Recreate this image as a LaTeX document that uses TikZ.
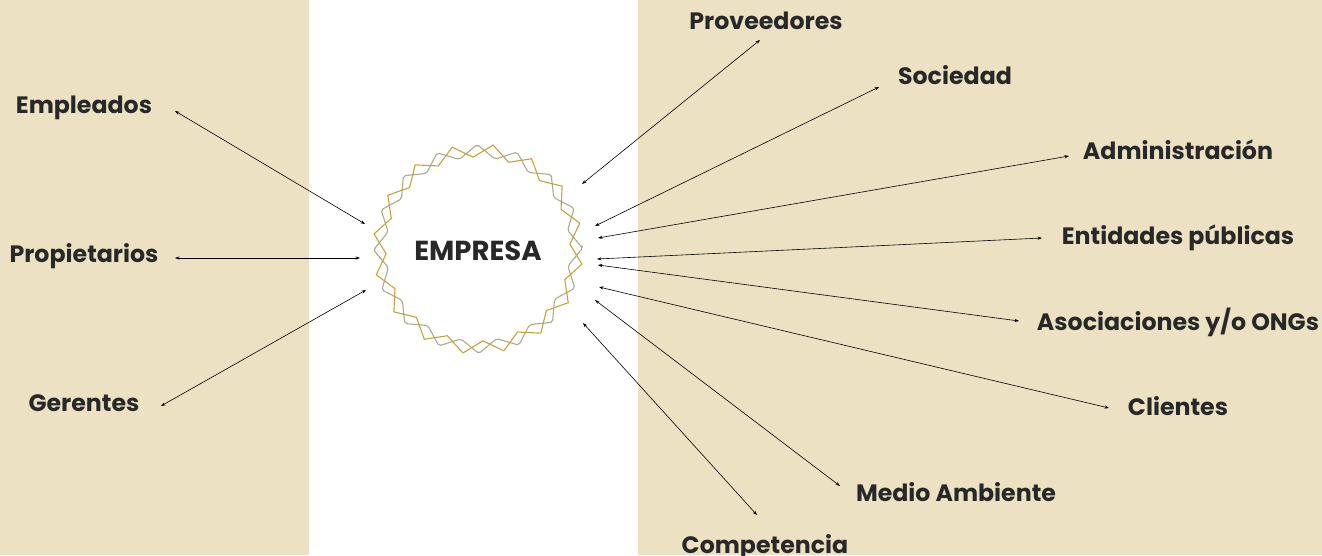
\documentclass[tikz,border=0pt]{standalone}
\usepackage{fontspec}
\setmainfont{Poppins}
\usetikzlibrary{arrows.meta}
\definecolor{beige}{RGB}{237,225,196}
\definecolor{gold}{RGB}{201,160,58}
\definecolor{olive}{RGB}{168,172,138}
\definecolor{ink}{RGB}{40,40,40}
\tikzset{
  lab/.style={anchor=base, inner sep=0pt, text=ink, font=\fontsize{23.7}{28}\selectfont\bfseries},
  link/.style={line width=0.6pt, black, {Stealth[length=4.5pt,width=3.2pt]}-{Stealth[length=4.5pt,width=3.2pt]}}
}
\begin{document}
\begin{tikzpicture}[x=1pt,y=-1pt]
\useasboundingbox (0,0) rectangle (1322,555);
\fill[beige] (0,0) rectangle (309,555);
\fill[beige] (638,0) rectangle (1322,555);
% rings
\draw[olive, line width=1.1pt, line join=round, rounded corners=2pt] plot[samples=33, domain=0:32, variable=\t]
  ({478+(98+6.5*cos(180*\t))*cos(\t*11.25-0.5)}, {249+(98+6.5*cos(180*\t))*sin(\t*11.25-0.5)}) -- cycle;
\draw[gold, line width=1.1pt, line join=miter] plot[samples=33, domain=0:32, variable=\t]
  ({478+(98.5+6.5*cos(180*\t))*cos(\t*11.25+8.25)}, {249+(98.5+6.5*cos(180*\t))*sin(\t*11.25+8.25)}) -- cycle;
\node[lab, font=\fontsize{27.5}{30}\selectfont\bfseries] (emp) at (478,260) {EMPRESA};
% labels
\node[lab] (empl) at (84,113) {Empleados};
\node[lab] (prop) at (84,262) {Propietarios};
\node[lab] (ger) at (84,411) {Gerentes};
\node[lab] (prov) at (766,29) {Proveedores};
\node[lab] (soc) at (955,84) {Sociedad};
\node[lab] (adm) at (1178,159) {Administración};
\node[lab] (ent) at (1178,244) {Entidades públicas};
\node[lab] (aso) at (1178,330) {Asociaciones y/o ONGs};
\node[lab] (cli) at (1178,415) {Clientes};
\node[lab] (med) at (956,501) {Medio Ambiente};
\node[lab] (com) at (765,553) {Competencia};
% connector ends
\coordinate (a1) at (175,111); \coordinate (b1) at (365,224);
\coordinate (a2) at (175,258); \coordinate (b2) at (360,258);
\coordinate (a3) at (161,406); \coordinate (b3) at (366,290);
\coordinate (a4) at (760,40);  \coordinate (b4) at (582,184);
\coordinate (a5) at (879,87);  \coordinate (b5) at (595,226);
\coordinate (a6) at (1069,156); \coordinate (b6) at (598,238);
\coordinate (a7) at (1042,238); \coordinate (b7) at (597,259);
\coordinate (a8) at (1019,321); \coordinate (b8) at (598,265);
\coordinate (a9) at (1109,408); \coordinate (b9) at (599,287);
\coordinate (a10) at (840,486); \coordinate (b10) at (595,300);
\coordinate (a11) at (757,515); \coordinate (b11) at (583,323);
\foreach \i in {1,...,11} { \draw[link] (a\i) -- (b\i); }
\end{tikzpicture}
\end{document}
